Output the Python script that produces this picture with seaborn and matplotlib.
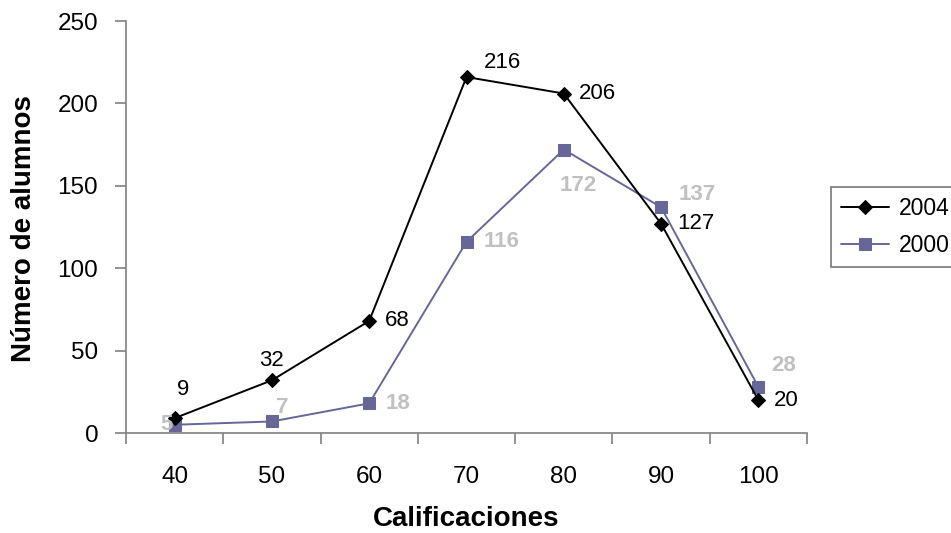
import matplotlib
matplotlib.use("Agg")
import matplotlib.pyplot as plt
import seaborn as sns
import pandas as pd
import numpy as np

categories = ["40", "50", "60", "70", "80", "90", "100"]
series_2004 = [9, 32, 68, 216, 206, 127, 20]
series_2000 = [5, 7, 18, 116, 172, 137, 28]
y_ticks = [0, 50, 100, 150, 200, 250]

# label offsets (pixels) relative to each point
off_2004 = [(8, 29), (0, 20), (28, 0), (36, 15), (34, 0), (35, 0), (28, 0)]
off_2000 = [(-8, 0), (10, 14), (29, 0), (35, 0), (14, -36), (36, 13), (25, 21)]

sns.set_theme(style="white")
plt.rcParams['font.family'] = ['Liberation Sans', 'DejaVu Sans']
plt.rcParams['text.color'] = 'black'
plt.rcParams['axes.labelcolor'] = 'black'

W, H = 951, 533
fig = plt.figure(figsize=(W / 100, H / 100), dpi=100)
ax = fig.add_axes([126 / W, 1 - 433 / H, (807 - 126) / W, (433 - 21) / H])

pos = np.arange(len(categories))
df = pd.DataFrame({
    "pos": np.concatenate([pos, pos]),
    "val": series_2004 + series_2000,
    "year": ["2004"] * len(pos) + ["2000"] * len(pos),
})

c2004 = "#000000"
c2000 = "#666699"

sns.lineplot(data=df[df.year == "2004"], x="pos", y="val", ax=ax, color=c2004,
             marker="D", markersize=7, markeredgecolor=c2004, linewidth=1.4,
             label="2004", legend=False, zorder=4)
sns.lineplot(data=df[df.year == "2000"], x="pos", y="val", ax=ax, color=c2000,
             marker="s", markersize=8, markeredgecolor=c2000, linewidth=1.4,
             label="2000", legend=False, zorder=3)

for p, v, (dx, dy) in zip(pos, series_2004, off_2004):
    ax.annotate(str(v), (p, v), xytext=(dx, dy), textcoords="offset pixels",
                ha="center", va="center", fontsize=16, color="black", zorder=6)
for p, v, (dx, dy) in zip(pos, series_2000, off_2000):
    ax.annotate(str(v), (p, v), xytext=(dx, dy), textcoords="offset pixels",
                ha="center", va="center", fontsize=16, color="#C0C0C0",
                fontweight="bold", zorder=5)

ax.set_xlim(-0.5, len(categories) - 0.5)
ax.set_ylim(0, 250)
ax.set_yticks(y_ticks)
ax.set_yticklabels([str(t) for t in y_ticks])
ax.set_xticks(np.arange(-0.5, len(categories), 1.0))
ax.set_xticklabels([])
ax.set_xticks(pos, minor=True)
ax.set_xticklabels(categories, minor=True)

for s in ["top", "right"]:
    ax.spines[s].set_visible(False)
for s in ["left", "bottom"]:
    ax.spines[s].set_color("#808080")
    ax.spines[s].set_linewidth(1.2)

ax.tick_params(axis="y", which="major", direction="out", length=8, width=1.2,
               color="#808080", labelcolor="black", labelsize=17.5, pad=12, left=True)
ax.tick_params(axis="x", which="major", direction="out", length=8, width=1.2,
               color="#808080", bottom=True)
ax.tick_params(axis="x", which="minor", length=0, labelsize=17.5, pad=24,
               labelcolor="black")
ax.grid(False)

ax.set_xlabel("Calificaciones", fontsize=20, fontweight="bold")
ax.set_ylabel("Número de alumnos", fontsize=20, fontweight="bold")
ax.xaxis.set_label_coords(0.5, (433 - 526) / (433 - 21))
ax.xaxis.label.set_va("baseline")
ax.yaxis.set_label_coords((23.5 - 126) / (807 - 126), (433 - 229) / (433 - 21))
ax.yaxis.label.set_va("center")

handles, labels = ax.get_legend_handles_labels()
leg = fig.legend(handles, labels, loc="upper left",
                 bbox_to_anchor=(831 / W, 1 - 187 / H),
                 fontsize=16.5, frameon=True, fancybox=False,
                 edgecolor="#555555", handlelength=2.1, borderpad=0.45,
                 labelspacing=0.6, handletextpad=0.4, borderaxespad=0)
leg.get_frame().set_linewidth(1.2)
for t in leg.get_texts():
    t.set_color("black")

fig.savefig("out.png", dpi=100)
